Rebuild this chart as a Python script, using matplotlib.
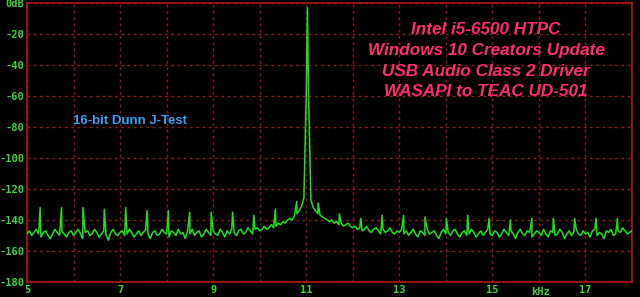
import numpy as np
import matplotlib
matplotlib.use("Agg")
import matplotlib.pyplot as plt

# noise floor, one value every 0.05 kHz from 5.00 to 18.00 kHz
floor_db = [
    # 5 kHz
    -149, -147, -150, -148, -146, -149, -151, -148, -147, -150,
    -152, -149, -146, -148, -150, -147, -149, -151, -148, -147,
    # 6 kHz
    -150, -148, -146, -149, -152, -148, -147, -150, -149, -146,
    -148, -151, -149, -147, -150, -153, -148, -146, -149, -150,
    # 7 kHz
    -148, -147, -150, -149, -146, -148, -151, -149, -147, -150,
    -148, -146, -149, -152, -148, -147, -150, -149, -146, -148,
    # 8 kHz
    -149, -151, -147, -148, -150, -146, -149, -148, -152, -147,
    -149, -146, -150, -148, -147, -151, -149, -146, -148, -150,
    # 9 kHz
    -147, -149, -150, -146, -148, -151, -147, -149, -146, -148,
    -150, -147, -146, -149, -148, -145, -147, -149, -146, -145,
    # 10 kHz
    -147, -146, -144, -146, -145, -143, -145, -144, -142, -143,
    -141, -142, -140, -139, -140, -137, -136, -134, -131, -126,
    # 11 kHz
    -60, -60, -127, -132, -134, -136, -137, -138, -139, -140,
    -141, -140, -142, -141, -143, -142, -144, -143, -142, -144,
    # 12 kHz
    -145, -144, -146, -145, -147, -146, -144, -147, -148, -146,
    -145, -147, -149, -146, -148, -147, -145, -148, -149, -147,
    # 13 kHz
    -148, -146, -149, -147, -150, -148, -146, -149, -151, -147,
    -148, -150, -146, -149, -148, -147, -150, -152, -148, -146,
    # 14 kHz
    -149, -148, -150, -147, -146, -149, -151, -148, -147, -150,
    -149, -146, -148, -151, -149, -147, -150, -148, -146, -149,
    # 15 kHz
    -150, -147, -148, -151, -149, -146, -148, -150, -147, -149,
    -152, -148, -146, -149, -150, -147, -148, -151, -149, -147,
    # 16 kHz
    -148, -150, -146, -149, -151, -147, -148, -150, -149, -146,
    -148, -152, -149, -147, -150, -148, -146, -149, -150, -147,
    # 17 kHz
    -149, -148, -151, -147, -146, -150, -148, -149, -152, -147,
    -148, -146, -150, -149, -147, -148, -145, -147, -149, -148,
    -147,
]
floor_khz = np.linspace(5.0, 18.0, len(floor_db))  # analyzer bin positions

# J-test tone and its jitter sidebands
tone_khz = [11.025]
tone_db = [-3]
spur_khz = [5.283, 5.742, 6.202, 6.661, 7.120, 7.580, 8.039, 8.498, 8.958,
            9.417, 9.876, 10.336, 10.795,
            11.255, 11.714, 12.173, 12.633, 13.092, 13.552, 14.011, 14.470,
            14.930, 15.389, 15.848, 16.308, 16.767, 17.227, 17.686]
spur_db = [-132, -132, -132, -133, -132, -134, -134, -135, -135,
           -135, -137, -133, -128,
           -129, -136, -139, -137, -137, -138, -139, -137, -139,
           -140, -139, -139, -139, -139, -139]

ytick_vals = [0, -20, -40, -60, -80, -100, -120, -140, -160, -180]
ytick_labels = ["0dB", "-20", "-40", "-60", "-80", "-100", "-120", "-140", "-160", "-180"]
xtick_vals = [5, 7, 9, 11, 13, 15, 17]

title_lines = ["Intel i5-6500 HTPC", "Windows 10 Creators Update",
               "USB Audio Class 2 Driver", "WASAPI to TEAC UD-501"]

# merge everything into one trace
f_all = np.concatenate([floor_khz, spur_khz, tone_khz])
d_all = np.concatenate([floor_db, spur_db, tone_db])
order = np.argsort(f_all)
f_all, d_all = f_all[order], d_all[order]

GREEN = "#1ee01e"
LABEL = "#40d040"
FRAME = "#b41414"
GRID = "#8c1a1a"

fig = plt.figure(figsize=(6.4, 2.97), dpi=100, facecolor="black")
ax = fig.add_axes([27 / 640, 15 / 297, 605 / 640, 279 / 297], facecolor="black")

ax.plot(f_all, d_all, color=GREEN, lw=1.1, zorder=3)

ax.set_xlim(5, 18)
ax.set_ylim(-180, 0)

ax.set_xticks(np.arange(5, 19, 1), minor=False)
ax.set_yticks(ytick_vals)
ax.grid(True, color=GRID, lw=1.0, linestyle=(0, (2, 2.5)))
ax.tick_params(length=0)
ax.set_yticklabels(ytick_labels, color=LABEL, family="DejaVu Sans Mono",
                   fontsize=7.5, fontweight="bold")
ax.set_xticklabels([str(v) if v in xtick_vals else "" for v in range(5, 19)],
                   color=LABEL, family="DejaVu Sans Mono", fontsize=7.5,
                   fontweight="bold")
ax.tick_params(axis="y", pad=2)
ax.tick_params(axis="x", pad=2)
for s in ax.spines.values():
    s.set_color(FRAME)
    s.set_linewidth(1.2)

fig.text(540 / 640, 1 - 292 / 297, "kHz", color=LABEL, family="DejaVu Sans Mono",
         fontsize=7.5, fontweight="bold", ha="center", va="center")

for i, line in enumerate(title_lines):
    fig.text(486 / 640, 1 - (29 + 21 * i) / 297, line, color="#ff2d6e",
             family="Liberation Sans", fontsize=12.3, fontweight="bold",
             style="italic", ha="center", va="center")

fig.text(130 / 640, 1 - 121 / 297, "16-bit Dunn J-Test", color="#34a4f0",
         family="Liberation Sans", fontsize=9.5, fontweight="bold",
         ha="center", va="center")

fig.savefig("out.png", dpi=100, facecolor="black")
